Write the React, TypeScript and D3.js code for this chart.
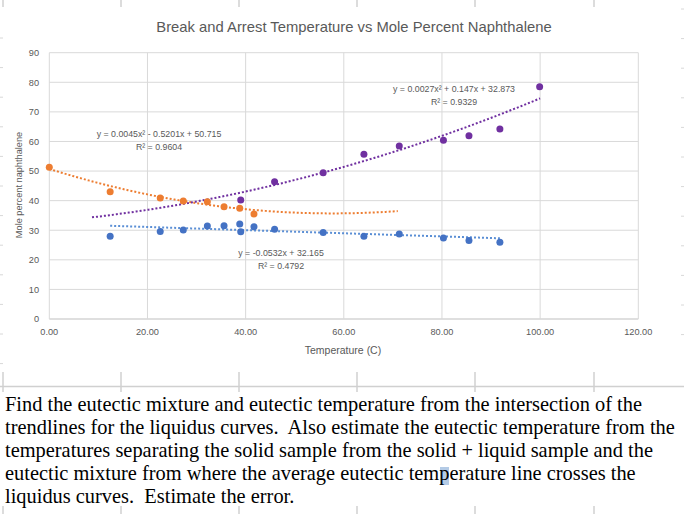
import React from 'react';
import * as d3 from 'd3';

// series
const orangeTemp = [0, 12.4, 22.6, 27.3, 32.2, 35.6, 38.8, 41.7];
const orangeMole = [51.3, 43.0, 40.9, 39.9, 39.6, 37.9, 37.4, 35.5];
const purpleTemp = [39.0, 45.9, 55.8, 64.1, 71.3, 80.3, 85.5, 91.8, 99.9];
const purpleMole = [40.2, 46.4, 49.4, 55.7, 58.5, 60.4, 61.9, 64.2, 78.5];
const blueTemp = [12.4, 22.6, 27.3, 32.2, 35.6, 38.8, 39.0, 41.7, 45.9, 55.8, 64.1, 71.3, 80.3, 85.5, 91.8];
const blueMole = [28.0, 29.6, 30.1, 31.4, 31.5, 32.1, 29.5, 31.2, 30.3, 29.2, 28.0, 28.7, 27.4, 26.5, 25.9];

// trendline coefficients [c0, c1, c2] and their x extents
const orangeFit = [50.715, -0.5201, 0.0045];
const purpleFit = [32.873, 0.147, 0.0027];
const blueFit = [32.165, -0.0532, 0];
const orangeSpan = [0, 71];
const purpleSpan = [8.7, 100];
const blueSpan = [12.4, 91.8];

const xTicks = [0, 20, 40, 60, 80, 100, 120];
const yTicks = [0, 10, 20, 30, 40, 50, 60, 70, 80, 90];

const paragraph = [
  'Find the eutectic mixture and eutectic temperature from the intersection of the',
  'trendlines for the liquidus curves.  Also estimate the eutectic temperature from the',
  'temperatures separating the solid sample from the solid + liquid sample and the',
  'eutectic mixture from where the average eutectic temperature line crosses the',
  'liquidus curves.  Estimate the error.',
];

const W = 684;
const H = 514;
const sans = "'Liberation Sans', Arial, sans-serif";
const grey = '#595959';

const x = d3.scaleLinear().domain([0, 120]).range([49.3, 638.3]);
const y = d3.scaleLinear().domain([0, 90]).range([319, 52.7]);

const fitPath = (c: number[], span: number[]) => {
  const xs = d3.range(span[0], span[1], 0.5).concat([span[1]]);
  return d3.line<number>()
    .x(t => x(t))
    .y(t => y(c[0] + c[1] * t + c[2] * t * t))(xs) || '';
};

const App = () => {
  const colX = [121, 239, 357, 475, 594];
  const edgeMarks = d3.range(38, 370, 29.6);

  return (
    <svg width={W} height={H} style={{ position: 'absolute', left: 0, top: 0, background: '#fff' }}>
      {/* spreadsheet cell borders peeking out */}
      {colX.map(cx => (
        <g key={cx} stroke="#d0d0d0" strokeWidth={1.5}>
          <line x1={cx} x2={cx} y1={0} y2={7} />
          <line x1={cx} x2={cx} y1={372} y2={392} />
          <line x1={cx} x2={cx} y1={506} y2={514} />
        </g>
      ))}
      <line x1={0} x2={W} y1={386.5} y2={386.5} stroke="#d0d0d0" strokeWidth={1.5} />
      <line x1={3} x2={3} y1={372} y2={392} stroke="#d0d0d0" strokeWidth={1.5} />
      <line x1={3} x2={3} y1={506} y2={514} stroke="#d0d0d0" strokeWidth={1.5} />
      <line x1={3} x2={3} y1={0} y2={7} stroke="#d0d0d0" strokeWidth={1.5} />
      {edgeMarks.map(m => (
        <g key={m} stroke="#d8d8d8" strokeWidth={1}>
          <line x1={0} x2={3} y1={m} y2={m} />
          <line x1={681} x2={684} y1={m - 29} y2={m - 29} />
        </g>
      ))}

      <text x={354} y={32} textAnchor="middle" fontFamily={sans} fontSize={14.8} fill={grey}>
        Break and Arrest Temperature vs Mole Percent Naphthalene
      </text>

      {/* grid */}
      {yTicks.map(t => (
        <line key={'h' + t} x1={x(0)} x2={x(120)} y1={y(t)} y2={y(t)} stroke={t === 0 ? '#bfbfbf' : '#d9d9d9'} strokeWidth={1} />
      ))}
      {xTicks.map(t => (
        <line key={'v' + t} x1={x(t)} x2={x(t)} y1={y(90)} y2={y(0)} stroke="#d9d9d9" strokeWidth={1} />
      ))}

      {yTicks.map(t => (
        <text key={'yl' + t} x={39} y={y(t) + 3.3} textAnchor="end" fontFamily={sans} fontSize={9.2} fill={grey}>{t}</text>
      ))}
      {xTicks.map(t => (
        <text key={'xl' + t} x={x(t)} y={335} textAnchor="middle" fontFamily={sans} fontSize={9.2} fill={grey}>{t.toFixed(2)}</text>
      ))}
      <text x={343} y={354} textAnchor="middle" fontFamily={sans} fontSize={10.5} fill={grey}>Temperature (C)</text>
      <text transform="translate(22,185) rotate(-90)" textAnchor="middle" fontFamily={sans} fontSize={9.2} fill={grey}>
        Mole percent naphthalene
      </text>

      {/* trendlines */}
      <path d={fitPath(orangeFit, orangeSpan)} fill="none" stroke="#ED7D31" strokeWidth={2} strokeDasharray="2 2" />
      <path d={fitPath(purpleFit, purpleSpan)} fill="none" stroke="#7030A0" strokeWidth={2} strokeDasharray="2 2" />
      <path d={fitPath(blueFit, blueSpan)} fill="none" stroke="#5B8FD5" strokeWidth={2} strokeDasharray="2 2" />

      {/* points */}
      {blueTemp.map((t, i) => (
        <circle key={'b' + i} cx={x(t)} cy={y(blueMole[i])} r={3.5} fill="#4472C4" />
      ))}
      {orangeTemp.map((t, i) => (
        <circle key={'o' + i} cx={x(t)} cy={y(orangeMole[i])} r={3.5} fill="#ED7D31" />
      ))}
      {purpleTemp.map((t, i) => (
        <circle key={'p' + i} cx={x(t)} cy={y(purpleMole[i])} r={3.5} fill="#7030A0" />
      ))}

      {/* equation labels */}
      <g fontFamily={sans} fontSize={8.8} fill={grey} textAnchor="middle">
        <text x={159} y={137}>y = 0.0045x² - 0.5201x + 50.715</text>
        <text x={159} y={150}>R² = 0.9604</text>
        <text x={454} y={92}>y = 0.0027x² + 0.147x + 32.873</text>
        <text x={454} y={105}>R² = 0.9329</text>
        <text x={281} y={256}>y = -0.0532x + 32.165</text>
        <text x={281} y={269}>R² = 0.4792</text>
      </g>

      {/* text under the chart */}
      <rect x={440} y={467} width={9} height={18} fill="#b4cbe6" />
      {paragraph.map((line, i) => (
        <text key={i} x={5} y={411 + i * 23} fontFamily="'Liberation Serif', 'Times New Roman', serif" fontSize={20.4} fill="#000" style={{ whiteSpace: 'pre' }}>
          {line}
        </text>
      ))}
    </svg>
  );
};

export default App;
